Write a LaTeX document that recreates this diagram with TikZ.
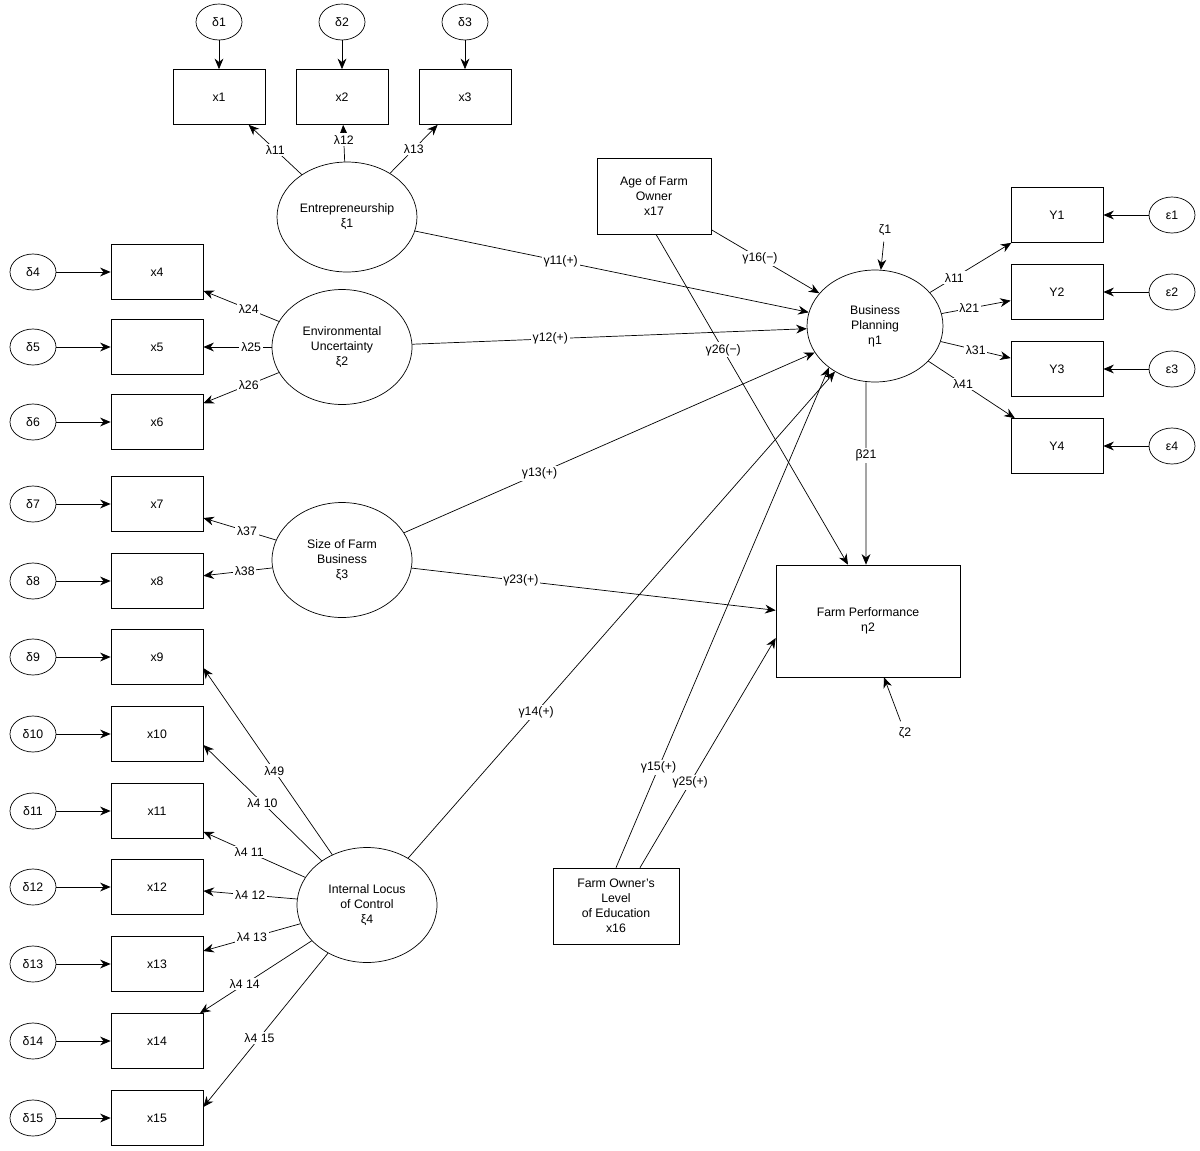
\documentclass[tikz,border=0pt]{standalone}
\usepackage{fontspec}
\setmainfont{Liberation Sans}
\usetikzlibrary{arrows.meta,shapes.geometric}
\begin{document}
\begin{tikzpicture}[x=0.02cm,y=-0.02cm,
  every node/.style={font=\fontsize{7}{8.5}\selectfont,align=center},
  bx/.style={draw,minimum width=1.84cm,minimum height=1.1cm,inner sep=0pt},
  ci/.style={draw,ellipse,minimum width=0.92cm,minimum height=0.72cm,inner sep=0pt},
  lv/.style={draw,ellipse,minimum width=2.8cm,minimum height=2.2cm,inner sep=0pt},
  arr/.style={-{Stealth[length=6pt,width=5pt]}},
  lab/.style={fill=white,inner sep=1pt}]
\useasboundingbox (0,0) rectangle (1200,1150);
% top indicators
\foreach \i/\x in {1/219,2/342,3/465}{
  \node[bx] (x\i) at (\x,97) {x\i};
  \node[ci] (d\i) at (\x,22) {δ\i};
  \draw[arr] (d\i) -- (x\i);
}
% left indicators
\foreach \i/\y in {4/272,5/347,6/422,7/504,8/581,9/657,10/734,11/811,12/887,13/964,14/1041,15/1118}{
  \node[bx] (x\i) at (157,\y) {x\i};
  \node[ci] (d\i) at (33,\y) {δ\i};
  \draw[arr] (d\i) -- (x\i);
}
% Y indicators
\foreach \i/\y in {1/215,2/292,3/369,4/446}{
  \node[bx] (y\i) at (1057,\y) {Y\i};
  \node[ci] (e\i) at (1172,\y) {ε\i};
  \draw[arr] (e\i) -- (y\i);
}
\node[lv] (E) at (347,217) {Entrepreneurship\\ξ1};
\node[lv,minimum height=2.3cm] (U) at (342,347) {Environmental\\Uncertainty\\ξ2};
\node[lv,minimum height=2.3cm] (S) at (342,560) {Size of Farm\\Business\\ξ3};
\node[lv,minimum height=2.3cm] (I) at (367,905) {Internal Locus\\of Control\\ξ4};
\node[lv,minimum width=2.72cm,minimum height=2.24cm] (BP) at (875,326) {Business\\Planning\\η1};
\node[bx,minimum width=2.28cm,minimum height=1.52cm] (A) at (654,196) {Age of Farm\\Owner\\x17};
\node[bx,minimum width=2.52cm,minimum height=1.52cm] (Ed) at (616,906) {Farm Owner's\\Level\\of Education\\x16};
\node[bx,minimum width=3.68cm,minimum height=2.24cm] (FP) at (868,621) {Farm Performance\\η2};
\node (z1) at (885,230) {ζ1};
\node (z2) at (905,733) {ζ2};
\draw[arr] (z1) -- (BP);
\draw[arr] (z2) -- ([xshift=0.32cm]FP.south);
% loadings
\draw[arr] (E) -- node[lab]{λ11} (x1);
\draw[arr] (E) -- node[lab,pos=0.6]{λ12} (x2);
\draw[arr] (E) -- node[lab]{λ13} (x3);
\draw[arr] (U) -- node[lab,pos=0.4]{λ24} (x4);
\draw[arr] (U) -- node[lab,pos=0.3]{λ25} (x5);
\draw[arr] (U) -- node[lab,pos=0.4]{λ26} (x6);
\draw[arr] (S) -- node[lab,pos=0.4]{λ37} (x7);
\draw[arr] (S) -- node[lab,pos=0.4]{λ38} (x8);
\draw[arr] (I) -- node[lab,pos=0.45]{λ49} ([yshift=-0.22cm]x9.east);
\draw[arr] (I) -- node[lab,pos=0.5]{λ4 10} ([yshift=-0.22cm]x10.east);
\draw[arr] (I) -- node[lab,pos=0.55]{λ4 11} (x11);
\draw[arr] (I) -- node[lab,pos=0.5]{λ4 12} (x12);
\draw[arr] (I) -- node[lab,pos=0.5]{λ4 13} (x13);
\draw[arr] (I) -- node[lab,pos=0.6]{λ4 14} (x14);
\draw[arr] (I) -- node[lab,pos=0.55]{λ4 15} ([yshift=0.22cm]x15.east);
\draw[arr] (BP) -- node[lab,pos=0.3]{λ11} (y1);
\draw[arr] (BP) -- node[lab,pos=0.4]{λ21} (y2);
\draw[arr] (BP) -- node[lab,pos=0.5]{λ31} (y3);
\draw[arr] (BP) -- node[lab,pos=0.4]{λ41} (y4);
% structural
\draw[arr] (E) -- node[lab,pos=0.37]{γ11(+)} (BP);
\draw[arr] (U) -- node[lab,pos=0.35]{γ12(+)} (BP);
\draw[arr] (S) -- node[lab,pos=0.33]{γ13(+)} (BP);
\draw[arr] (I) -- node[lab,pos=0.3]{γ14(+)} (BP);
\draw[arr] (S) -- node[lab,pos=0.3]{γ23(+)} (FP);
\draw[arr] (A) -- node[lab,pos=0.45]{γ16(−)} (BP);
\draw[arr] ([xshift=0.04cm]A.south) -- node[lab,pos=0.35]{γ26(−)} ([xshift=-0.4cm]FP.north);
\draw[arr] (Ed.north) -- node[lab,pos=0.2]{γ15(+)} (BP.222);
\draw[arr] ([xshift=0.48cm]Ed.north) -- node[lab,pos=0.37]{γ25(+)} ([yshift=-0.34cm]FP.west);
\draw[arr] ([xshift=-0.18cm]BP.south) -- node[lab,pos=0.4]{β21} ([xshift=-0.04cm]FP.north);
\end{tikzpicture}
\end{document}
